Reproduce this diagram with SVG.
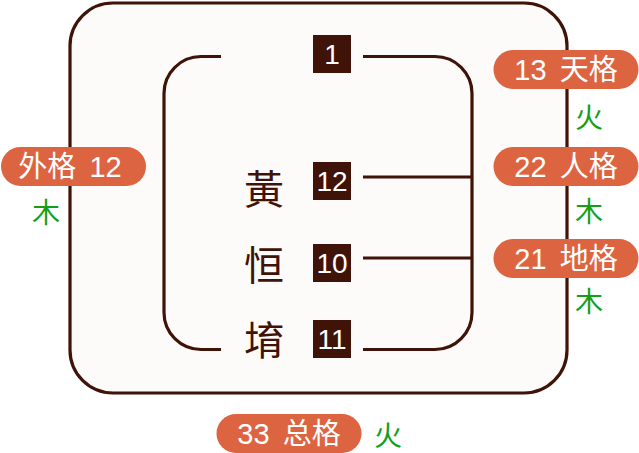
<svg xmlns="http://www.w3.org/2000/svg" width="639" height="453" viewBox="0 0 639 453">
<style>
.ln{fill:none;stroke:#3f1307;stroke-width:3.2}
.box{fill:#3f1307}
.bt{fill:#fff;font-family:"Liberation Sans",sans-serif;font-size:28px;text-anchor:middle}
.big{fill:#3f1307;font-family:"Noto Sans CJK SC",sans-serif;font-size:40px;text-anchor:middle;dominant-baseline:central}
.pill{fill:#dd6441}
.pt{fill:#fff;font-family:"Liberation Sans","Noto Sans CJK SC",sans-serif;font-size:29px;text-anchor:middle;word-spacing:5px}
.el{fill:#14a014;font-family:"Noto Sans CJK SC",sans-serif;font-size:28px;text-anchor:middle;dominant-baseline:central}
</style>
<rect width="639" height="453" fill="#fff"/>
<g id="frame">
<rect class="ln" x="70" y="3" width="497" height="390" rx="43" style="fill:#fdfbf9"/>
</g>
<g id="connectors">
<path class="ln" d="M221,56.5 H201 A37,37 0 0 0 164,93.5 V312.5 A37,37 0 0 0 201,349.5 H221"/>
<path class="ln" d="M363,56.5 H435 A37,37 0 0 1 472,93.5 V312.5 A37,37 0 0 1 435,349.5 H363"/>
<path class="ln" d="M363,177 H472 M363,258 H472"/>
</g>
<g id="n1"><rect class="box" x="313" y="35" width="38" height="38"/><text class="bt" x="332" y="64">1</text></g>
<g id="n12"><rect class="box" x="313" y="162" width="38" height="38"/><text class="bt" x="332" y="191">12</text></g>
<g id="n10"><rect class="box" x="313" y="244" width="38" height="38"/><text class="bt" x="332" y="273">10</text></g>
<g id="n11"><rect class="box" x="313" y="320" width="38" height="38"/><text class="bt" x="332" y="349">11</text></g>
<g id="c1"><text class="big" x="264" y="187">黃</text></g>
<g id="c2"><text class="big" x="264" y="263">恒</text></g>
<g id="c3"><text class="big" x="264" y="338">堉</text></g>
<g id="tiange"><rect class="pill" x="493.5" y="50" width="145" height="39" rx="19.5"/><text class="pt" x="566" y="80">13 天格</text></g>
<g id="renge"><rect class="pill" x="493.5" y="147" width="145" height="39" rx="19.5"/><text class="pt" x="566" y="177">22 人格</text></g>
<g id="dige"><rect class="pill" x="493.5" y="239" width="145" height="39" rx="19.5"/><text class="pt" x="566" y="269">21 地格</text></g>
<g id="waige"><rect class="pill" x="1" y="147" width="145" height="39" rx="19.5"/><text class="pt" x="70" y="177">外格 12</text></g>
<g id="zongge"><rect class="pill" x="216.5" y="414" width="145" height="39" rx="19.5"/><text class="pt" x="289" y="444">33 总格</text></g>
<g id="elements">
<text class="el" x="589" y="116">火</text>
<text class="el" x="589" y="210">木</text>
<text class="el" x="589" y="300">木</text>
<text class="el" x="46" y="211">木</text>
<text class="el" x="388" y="434">火</text>
</g>
</svg>
